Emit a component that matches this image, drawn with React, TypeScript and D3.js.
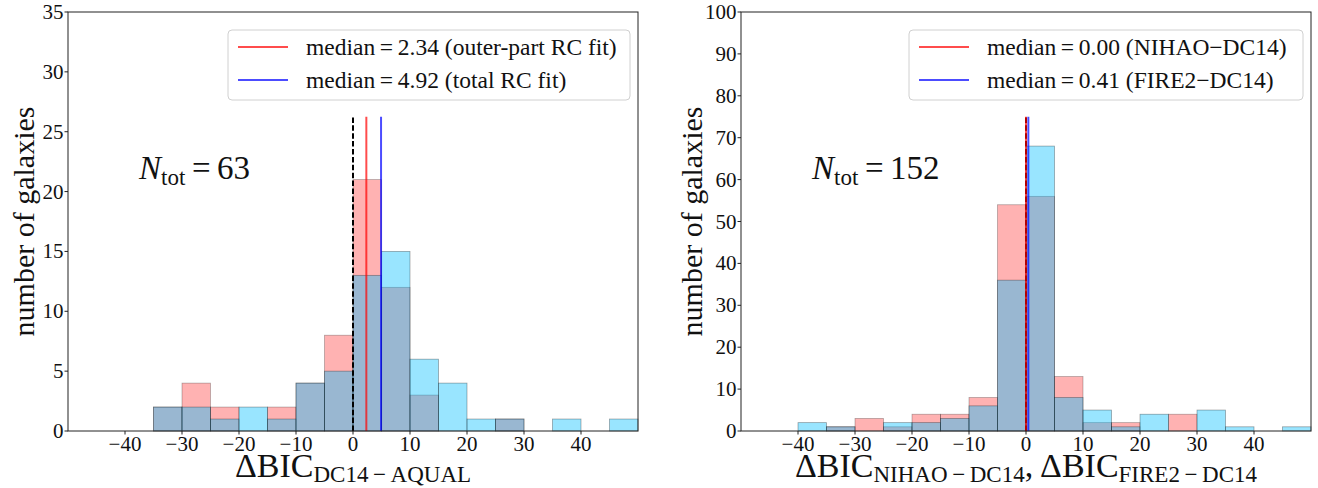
import React from 'react'
import * as d3 from 'd3'

const width = 1318
const height = 488
const FONT = '"Liberation Serif", "Times New Roman", serif'

// histogram bins (left edge of each 5-wide bin)
const binStarts = [-40, -35, -30, -25, -20, -15, -10, -5, 0, 5, 10, 15, 20, 25, 30, 35, 40, 45]

// left panel: DC14 - AQUAL
const outerFitCounts = [0, 2, 4, 2, 0, 2, 4, 8, 21, 12, 3, 0, 0, 1, 0, 0, 0, 0]
const totalFitCounts = [0, 2, 2, 1, 2, 1, 4, 5, 13, 15, 6, 4, 1, 1, 0, 1, 0, 1]

// right panel: NIHAO - DC14 and FIRE2 - DC14
const nihaoCounts = [0, 1, 3, 1, 4, 4, 8, 54, 56, 13, 2, 2, 0, 4, 0, 0, 0, 0]
const fire2Counts = [2, 1, 0, 2, 2, 3, 6, 36, 68, 8, 5, 1, 4, 0, 5, 1, 0, 1]

const xTicks = [-40, -30, -20, -10, 0, 10, 20, 30, 40]
const leftYTicks = [0, 5, 10, 15, 20, 25, 30, 35]
const rightYTicks = [0, 10, 20, 30, 40, 50, 60, 70, 80, 90, 100]

const leftMedians = [2.34, 4.92]
const rightMedians = [0.0, 0.41]
const leftLegend = ['median\u2009=\u20092.34 (outer-part RC fit)', 'median\u2009=\u20094.92 (total RC fit)']
const rightLegend = ['median\u2009=\u20090.00 (NIHAO\u2212DC14)', 'median\u2009=\u20090.41 (FIRE2\u2212DC14)']

const fmt = (v: number) => (v < 0 ? '\u2212' + Math.abs(v) : String(v))

function Panel(props: any) {
  const { x0, x1, y0, y1, yMax, yTicks, red, cyan, medians, legend, legendW, nTot, nTotX, xLabel, yLabelX } = props
  const x = d3.scaleLinear().domain([-50, 50]).range([x0, x1])
  const y = d3.scaleLinear().domain([0, yMax]).range([y1, y0])
  const lineTop = y(yMax * 0.75)
  const lgX = x1 - 8 - legendW
  const lgY = 30
  return (
    <g>
      {/* red histogram */}
      {binStarts.map((b, i) =>
        red[i] > 0 ? (
          <rect key={'r' + i} x={x(b)} y={y(red[i])} width={x(b + 5) - x(b)} height={y(0) - y(red[i])}
            fill="red" fillOpacity={0.3} stroke="black" strokeOpacity={0.3} strokeWidth={0.8} />
        ) : null
      )}
      {/* cyan histogram */}
      {binStarts.map((b, i) =>
        cyan[i] > 0 ? (
          <rect key={'c' + i} x={x(b)} y={y(cyan[i])} width={x(b + 5) - x(b)} height={y(0) - y(cyan[i])}
            fill="deepskyblue" fillOpacity={0.4} stroke="black" strokeOpacity={0.35} strokeWidth={0.8} />
        ) : null
      )}
      {/* zero line and medians */}
      <line x1={x(0)} x2={x(0)} y1={y(0)} y2={lineTop} stroke="black" strokeWidth={2} strokeDasharray="5.5,2.4" />
      <line x1={x(medians[0])} x2={x(medians[0])} y1={y(0)} y2={lineTop} stroke="red" strokeOpacity={0.7} strokeWidth={2} />
      <line x1={x(medians[1])} x2={x(medians[1])} y1={y(0)} y2={lineTop} stroke="blue" strokeOpacity={0.7} strokeWidth={2} />

      {/* frame */}
      <rect x={x0} y={y0} width={x1 - x0} height={y1 - y0} fill="none" stroke="#222" strokeWidth={1} />

      {/* x ticks */}
      {xTicks.map(t => (
        <g key={'xt' + t}>
          <line x1={x(t)} x2={x(t)} y1={y1} y2={y1 + 3.5} stroke="#222" />
          <text x={x(t)} y={y1 + 20} textAnchor="middle" fontFamily={FONT} fontSize={21} fill="#111">{fmt(t)}</text>
        </g>
      ))}
      {/* y ticks */}
      {yTicks.map((t: number) => (
        <g key={'yt' + t}>
          <line x1={x0 - 3.5} x2={x0} y1={y(t)} y2={y(t)} stroke="#222" />
          <text x={x0 - 4.5} y={y(t) + 7} textAnchor="end" fontFamily={FONT} fontSize={21} fill="#111">{t}</text>
        </g>
      ))}

      {/* legend */}
      <rect x={lgX} y={lgY} width={legendW} height={70} rx={4} fill="white" fillOpacity={0.8} stroke="#d0d0d0" />
      {legend.map((s: string, i: number) => (
        <g key={'lg' + i}>
          <line x1={lgX + 10} x2={lgX + 60} y1={lgY + 17 + i * 33} y2={lgY + 17 + i * 33}
            stroke={i === 0 ? 'red' : 'blue'} strokeOpacity={0.7} strokeWidth={2} />
          <text x={lgX + 78} y={lgY + 25 + i * 33} fontFamily={FONT} fontSize={23.5} fill="#111">{s}</text>
        </g>
      ))}

      {/* N_tot */}
      <text x={nTotX} y={179} fontFamily={FONT} fontSize={33} fill="#111">
        <tspan fontStyle="italic">N</tspan>
        <tspan fontSize={23} dy={6}>tot</tspan>
        <tspan dy={-6}>{'\u2009=\u2009' + nTot}</tspan>
      </text>

      {/* axis labels */}
      <text transform={`translate(${yLabelX},${(y0 + y1) / 2}) rotate(-90)`} textAnchor="middle"
        fontFamily={FONT} fontSize={30} fill="#111">number of galaxies</text>
      <text x={(x0 + x1) / 2} y={477} textAnchor="middle" fontFamily={FONT} fontSize={34} fill="#111">
        {xLabel.map((part: string[], i: number) => (
          <React.Fragment key={i}>
            <tspan dy={i === 0 ? 0 : -5}>{part[0]}</tspan>
            <tspan fontSize={23} dy={5}>{part[1]}</tspan>
          </React.Fragment>
        ))}
      </text>
    </g>
  )
}

export default function App() {
  return (
    <svg width={width} height={height} style={{ display: 'block', position: 'absolute', left: 0, top: 0 }}>
      <rect width={width} height={height} fill="white" />
      <Panel x0={68} x1={638} y0={12} y1={431} yMax={35} yTicks={leftYTicks}
        red={outerFitCounts} cyan={totalFitCounts} medians={leftMedians}
        legend={leftLegend} legendW={402} nTot={63} nTotX={139} yLabelX={34}
        xLabel={[['\u0394BIC', 'DC14\u2009\u2212\u2009AQUAL']]} />
      <Panel x0={741} x1={1311} y0={12} y1={431} yMax={100} yTicks={rightYTicks}
        red={nihaoCounts} cyan={fire2Counts} medians={rightMedians}
        legend={rightLegend} legendW={394} nTot={152} nTotX={812} yLabelX={702}
        xLabel={[['\u0394BIC', 'NIHAO\u2009\u2212\u2009DC14'], [',\u2009\u0394BIC', 'FIRE2\u2009\u2212\u2009DC14']]} />
    </svg>
  )
}
